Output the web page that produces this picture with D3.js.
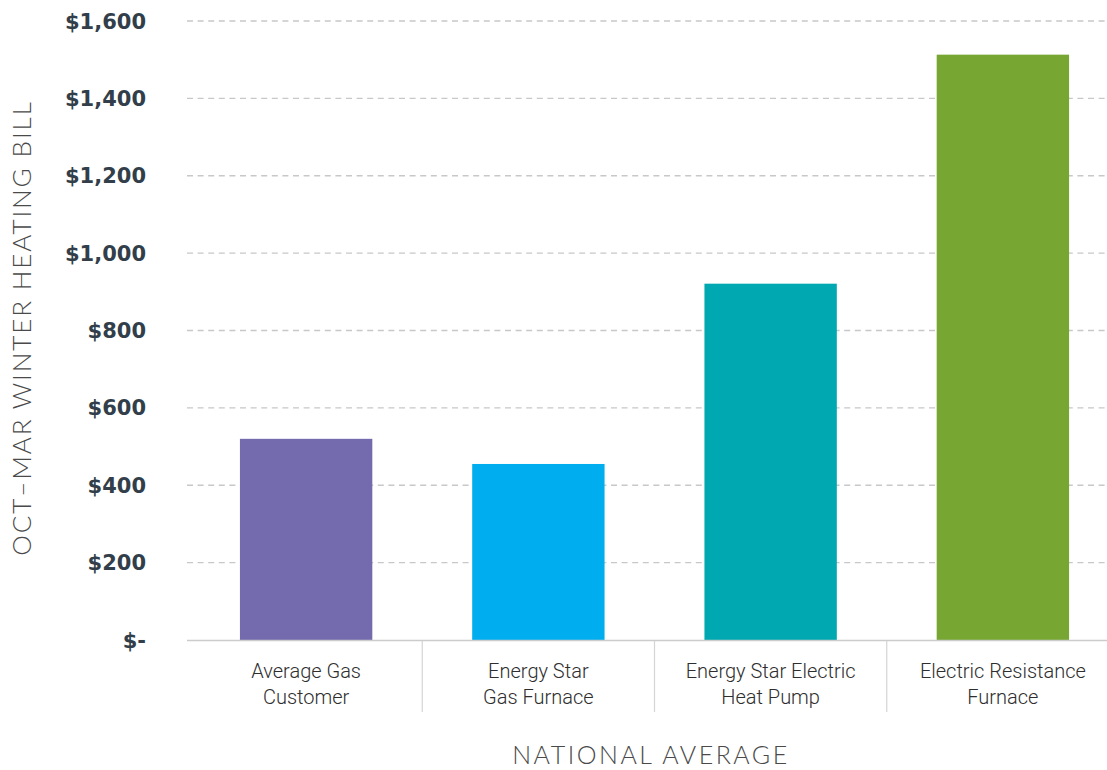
<!DOCTYPE html>
<html>
<head>
<meta charset="utf-8">
<script src="https://cdn.jsdelivr.net/npm/d3@7"></script>
<style>
  body { margin: 0; background: #fff; }
</style>
</head>
<body>
<svg id="chart"></svg>
<script>
// chart values
var categories = [
  ["Average Gas", "Customer"],
  ["Energy Star", "Gas Furnace"],
  ["Energy Star Electric", "Heat Pump"],
  ["Electric Resistance", "Furnace"]
];
var bills = [520, 455, 921, 1513];
var colors = ["#746aae", "#00aeef", "#00a9b1", "#77a633"];
var yTicks = [0, 200, 400, 600, 800, 1000, 1200, 1400, 1600];

var width = 1107, height = 770;
var margin = { top: 21, right: -12, bottom: 130, left: 190 };

var svg = d3.select("#chart")
  .attr("width", width)
  .attr("height", height);

var keys = categories.map(function(c) { return c.join(" "); });

var x = d3.scaleBand()
  .domain(keys)
  .range([margin.left, width - margin.right])
  .paddingInner(0.43)
  .paddingOuter(0.215);

var y = d3.scaleLinear()
  .domain([0, 1600])
  .range([height - margin.bottom, margin.top]);

var fmt = d3.format(",");
var plotLeft = 187;

// dashed gridlines
svg.append("g")
  .selectAll("line")
  .data(yTicks.filter(function(d) { return d > 0; }))
  .enter().append("line")
  .attr("x1", plotLeft)
  .attr("x2", width)
  .attr("y1", function(d) { return y(d); })
  .attr("y2", function(d) { return y(d); })
  .style("stroke", "#c8c8c8")
  .style("stroke-width", "1.3px")
  .style("stroke-dasharray", "6,4.6");

// y tick labels
svg.append("g")
  .selectAll("text")
  .data(yTicks)
  .enter().append("text")
  .attr("x", 146)
  .attr("y", function(d) { return y(d); })
  .attr("dy", "0.36em")
  .attr("text-anchor", "end")
  .style("font-family", "'DejaVu Sans', sans-serif")
  .style("font-weight", "bold")
  .style("font-size", "21px")
  .style("fill", "#323f4a")
  .text(function(d) { return d === 0 ? "$-" : "$" + fmt(d); });

// bars
svg.append("g")
  .selectAll("rect")
  .data(bills)
  .enter().append("rect")
  .attr("x", function(d, i) { return x(keys[i]); })
  .attr("width", x.bandwidth())
  .attr("y", function(d) { return y(d); })
  .attr("height", function(d) { return y(0) - y(d); })
  .style("fill", function(d, i) { return colors[i]; });

// baseline
svg.append("line")
  .attr("x1", plotLeft)
  .attr("x2", width)
  .attr("y1", y(0) + 0.5)
  .attr("y2", y(0) + 0.5)
  .style("stroke", "#cccccc")
  .style("stroke-width", "1.5px");

// category separators
var step = x.step();
svg.append("g")
  .selectAll("line")
  .data(keys.slice(1))
  .enter().append("line")
  .attr("x1", function(d) { return x(d) - step * x.paddingInner() / 2; })
  .attr("x2", function(d) { return x(d) - step * x.paddingInner() / 2; })
  .attr("y1", y(0) + 1)
  .attr("y2", y(0) + 72)
  .style("stroke", "#d4d4d4")
  .style("stroke-width", "1.2px");

// category labels, two lines each
var labels = svg.append("g")
  .selectAll("text")
  .data(categories)
  .enter().append("text")
  .attr("text-anchor", "middle")
  .style("font-family", "Roboto, sans-serif")
  .style("font-weight", "300")
  .style("font-size", "20px")
  .style("fill", "#2e2e2e");

labels.selectAll("tspan")
  .data(function(d, i) { return d.map(function(t) { return { t: t, k: keys[i] }; }); })
  .enter().append("tspan")
  .attr("x", function(d) { return x(d.k) + x.bandwidth() / 2; })
  .attr("y", function(d, j) { return 678 + j * 26; })
  .text(function(d) { return d.t; });

// axis titles
svg.append("text")
  .attr("transform", "translate(31," + 328 + ") rotate(-90)")
  .attr("text-anchor", "middle")
  .style("font-family", "Lato, sans-serif")
  .style("font-weight", "300")
  .style("font-size", "26px")
  .style("letter-spacing", "1.9px")
  .style("fill", "#4a4a4a")
  .text("OCT\u2013MAR WINTER HEATING BILL");

svg.append("text")
  .attr("x", 651)
  .attr("y", 764)
  .attr("text-anchor", "middle")
  .style("font-family", "Lato, sans-serif")
  .style("font-weight", "300")
  .style("font-size", "25px")
  .style("letter-spacing", "2.5px")
  .style("fill", "#4a4a4a")
  .text("NATIONAL AVERAGE");
</script>
</body>
</html>
